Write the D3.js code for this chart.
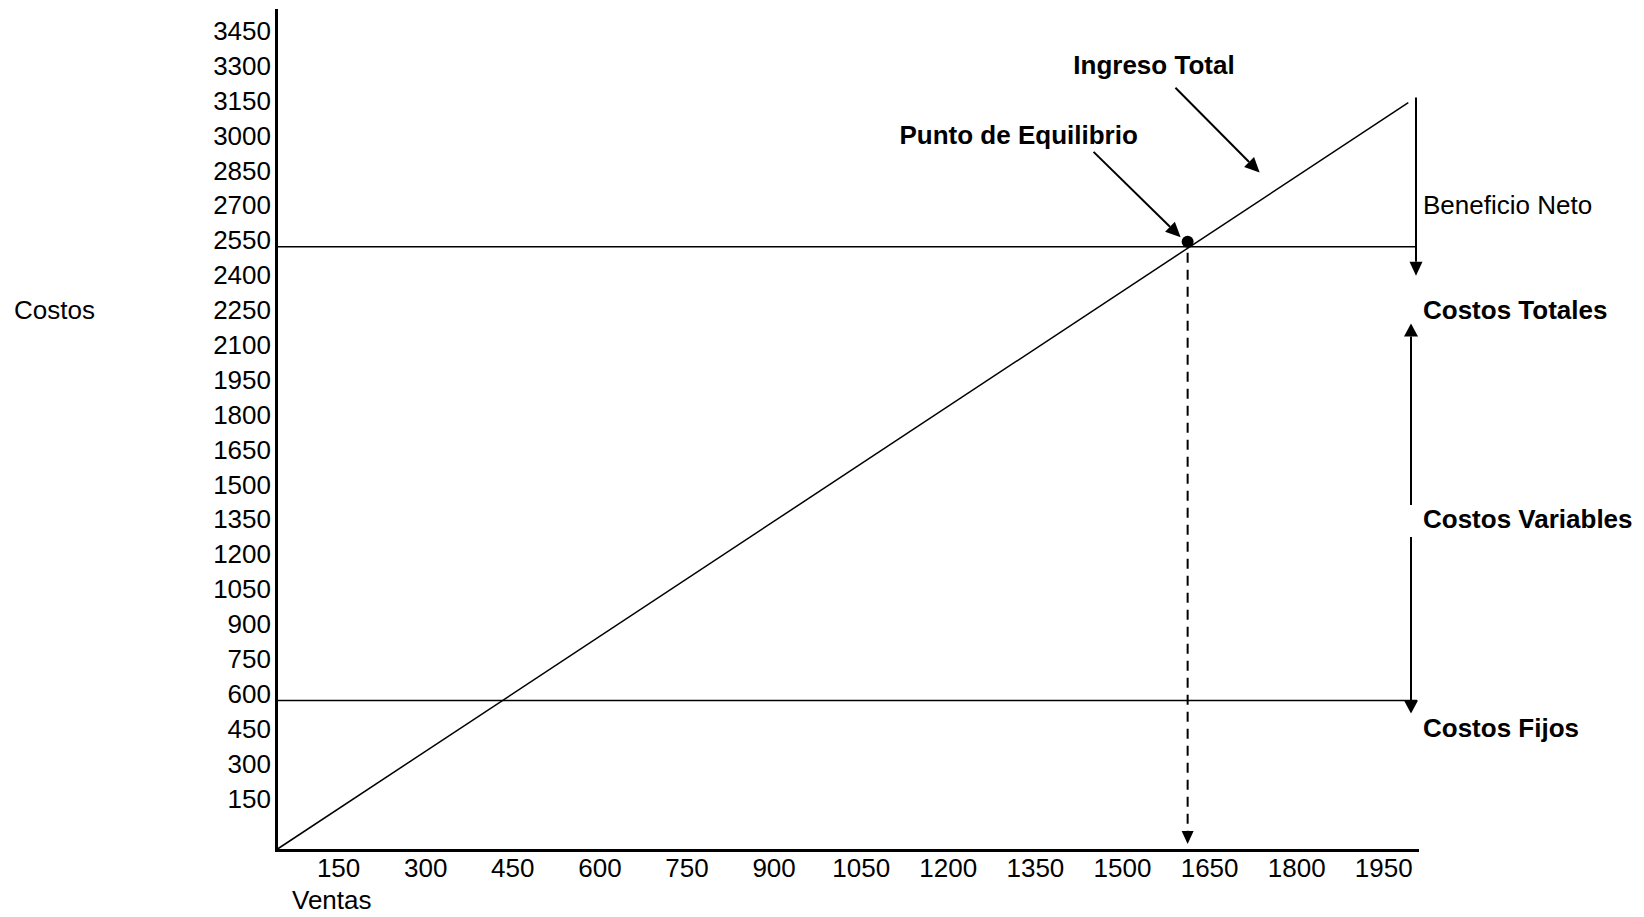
<!DOCTYPE html>
<html>
<head>
<meta charset="utf-8">
<script src="https://cdn.jsdelivr.net/npm/d3@7"></script>
<style>
  html, body { margin: 0; padding: 0; background: #fff; }
  svg { display: block; font-family: "Liberation Sans", Arial, sans-serif; }
</style>
</head>
<body>
<svg id="chart" width="1644" height="917"></svg>
<script>
// Axis tick labels
const ventasTicks = [150, 300, 450, 600, 750, 900, 1050, 1200, 1350, 1500, 1650, 1800, 1950];
const costosTicks = [150, 300, 450, 600, 750, 900, 1050, 1200, 1350, 1500, 1650, 1800, 1950,
                     2100, 2250, 2400, 2550, 2700, 2850, 3000, 3150, 3300, 3450];

// Axis extents (the lower costos limit is where the two axes meet)
const ventasDominio = [0, 1965];
const costosDominio = [-43, 3568];

// Ingreso total: rises from the corner of the axes to the right edge
const ingresoVentas = [0, 1950];
const ingresoCostos = [-43, 3170];

// Fixed costs and break-even point
const costosFijos = 600;
const puntoEquilibrio = { ventas: 1570, costos: 2550 };

// Rows (on the costos scale) used by the side labels
const filasEtiquetas = { ingreso: 3300, equilibrio: 3000, beneficio: 2700, totales: 2250, variables: 1350, fijos: 450 };

// Leader arrows for the two titles, in data units
const guias = {
  ingreso:    { desde: [1549, 3234], hasta: [1694, 2869] },
  equilibrio: { desde: [1408, 2958], hasta: [1558, 2591] }
};

const svg = d3.select("#chart");
const x = d3.scaleLinear().domain(ventasDominio).range([276, 1417]);
const y = d3.scaleLinear().domain(costosDominio).range([850, 10]);

const FONT = 26;
const LABEL_SHIFT = -7;   // tick text sits slightly above its value
const fmt = d3.format("d");

// Y axis
const gy = svg.append("g")
  .attr("transform", `translate(${x(ventasDominio[0])},0)`)
  .call(d3.axisLeft(y).tickValues(costosTicks).tickFormat(fmt).tickSize(0).tickSizeOuter(0).tickPadding(5))
  .attr("font-size", null).attr("font-family", null);
gy.select(".domain").attr("stroke", "#000").attr("stroke-width", 3).attr("stroke-linecap", "square");
gy.selectAll(".tick text")
  .attr("dy", null).attr("y", LABEL_SHIFT)
  .attr("dominant-baseline", "central")
  .attr("font-size", FONT).attr("fill", "#000");

// X axis
const gx = svg.append("g")
  .attr("transform", `translate(0,${y(costosDominio[0])})`)
  .call(d3.axisBottom(x).tickValues(ventasTicks).tickFormat(fmt).tickSize(0).tickSizeOuter(0).tickPadding(0))
  .attr("font-size", null).attr("font-family", null);
gx.select(".domain").attr("stroke", "#000").attr("stroke-width", 3).attr("stroke-linecap", "square");
gx.selectAll(".tick text")
  .attr("dy", null).attr("y", 18).attr("dx", -25)
  .attr("dominant-baseline", "central")
  .attr("font-size", FONT).attr("fill", "#000");

// Axis titles
svg.append("text").attr("x", 14).attr("y", y(filasEtiquetas.totales) + LABEL_SHIFT)
  .attr("dominant-baseline", "central").attr("font-size", FONT).text("Costos");
svg.append("text").attr("x", x(0) + 16).attr("y", y(costosDominio[0]) + 50)
  .attr("dominant-baseline", "central").attr("font-size", FONT).text("Ventas");

// Horizontal reference lines: break-even level and fixed costs
const lineas = svg.append("g").attr("stroke", "#000").attr("stroke-width", 1.5);
[puntoEquilibrio.costos, costosFijos].forEach(v => {
  lineas.append("line")
    .attr("x1", x(ventasDominio[0])).attr("x2", x(ventasDominio[1]))
    .attr("y1", y(v)).attr("y2", y(v));
});

// Ingreso total line
const ingresoPts = ingresoVentas.map((v, i) => [v, ingresoCostos[i]]);
svg.append("path")
  .datum(ingresoPts)
  .attr("fill", "none").attr("stroke", "#000").attr("stroke-width", 1.5)
  .attr("d", d3.line().x(d => x(d[0])).y(d => y(d[1])));

// Arrow helper: shaft plus filled triangular head
function flecha(g, x1, y1, x2, y2, opts = {}) {
  const len = opts.len || 14, half = opts.half || 6.5;
  const a = Math.atan2(y2 - y1, x2 - x1);
  const bx = x2 - len * Math.cos(a), by = y2 - len * Math.sin(a);
  const shaft = g.append("line")
    .attr("x1", x1).attr("y1", y1).attr("x2", bx).attr("y2", by)
    .attr("stroke", "#000").attr("stroke-width", opts.width || 2);
  if (opts.dash) shaft.attr("stroke-dasharray", opts.dash);
  g.append("path")
    .attr("d", `M${x2},${y2}L${bx + half * Math.sin(a)},${by - half * Math.cos(a)}L${bx - half * Math.sin(a)},${by + half * Math.cos(a)}Z`)
    .attr("fill", "#000");
}

const anot = svg.append("g");

// Dashed drop from the break-even point to the ventas axis
flecha(anot, x(puntoEquilibrio.ventas), y(puntoEquilibrio.costos) + 6,
       x(puntoEquilibrio.ventas), y(costosDominio[0]) - 6,
       { dash: "10,7", width: 2, len: 13, half: 6 });

// Break-even dot
anot.append("circle")
  .attr("cx", x(puntoEquilibrio.ventas)).attr("cy", y(puntoEquilibrio.costos) - 5)
  .attr("r", 6).attr("fill", "#000");

// Leader arrows for the titles
Object.values(guias).forEach(g => {
  flecha(anot, x(g.desde[0]), y(g.desde[1]), x(g.hasta[0]), y(g.hasta[1]), { len: 15, half: 7, width: 2 });
});

// Beneficio neto: from the end of the ingreso line down past the break-even level
const xBen = x(ventasDominio[1]) - 1;
flecha(anot, xBen, y(ingresoCostos[1]) - 5, xBen, y(puntoEquilibrio.costos) + 29, { len: 14, half: 6.5 });

// Costos variables: double arrow between costos totales and costos fijos, broken by its label
const xVar = x(ventasDominio[1]) - 6;
const yVarLabel = y(filasEtiquetas.variables) + LABEL_SHIFT;
flecha(anot, xVar, yVarLabel - 14, xVar, y(filasEtiquetas.totales) + 7, { len: 13, half: 7 });
flecha(anot, xVar, yVarLabel + 18, xVar, y(costosFijos) + 13, { len: 13, half: 7 });

// Titles and side labels
const xLado = x(ventasDominio[1]) + 6;
const textos = [
  { t: "Ingreso Total",        x: x(1512), fila: filasEtiquetas.ingreso,    anchor: "middle", bold: true },
  { t: "Punto de Equilibrio",  x: x(1279), fila: filasEtiquetas.equilibrio, anchor: "middle", bold: true },
  { t: "Beneficio Neto",       x: xLado,   fila: filasEtiquetas.beneficio,  anchor: "start",  bold: false },
  { t: "Costos Totales",       x: xLado,   fila: filasEtiquetas.totales,    anchor: "start",  bold: true },
  { t: "Costos Variables",     x: xLado,   fila: filasEtiquetas.variables,  anchor: "start",  bold: true },
  { t: "Costos Fijos",         x: xLado,   fila: filasEtiquetas.fijos,      anchor: "start",  bold: true }
];
svg.append("g").selectAll("text").data(textos).join("text")
  .attr("x", d => d.x)
  .attr("y", d => y(d.fila) + LABEL_SHIFT)
  .attr("text-anchor", d => d.anchor)
  .attr("dominant-baseline", "central")
  .attr("font-size", FONT)
  .attr("font-weight", d => d.bold ? "bold" : "normal")
  .text(d => d.t);
</script>
</body>
</html>
